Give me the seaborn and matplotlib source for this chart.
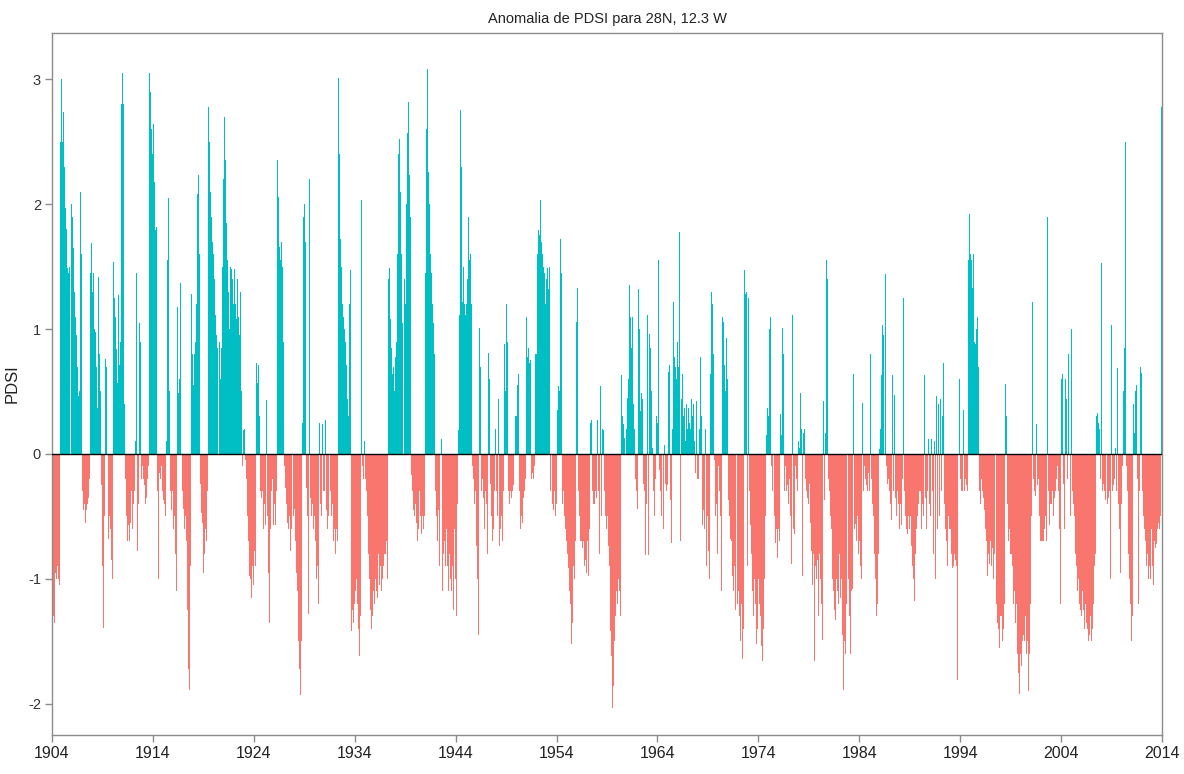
import numpy as np
import pandas as pd
import matplotlib
matplotlib.use("Agg")
import matplotlib.pyplot as plt
import seaborn as sns

title = "Anomalia de PDSI para 28N, 12.3 W"
ylabel = "PDSI"
start_year = 1904
xticks = list(range(1904, 2015, 10))
yticks = [-2, -1, 0, 1, 2, 3]
pos_color = "#00BFC4"
neg_color = "#F8766D"

# monthly PDSI values (Jan..Dec), one row per year
pdsi_1904_1913 = [
    [-1.2, -1.3, -1.35, -1.1, -0.95, -1.0, -0.9, -1.0, -1.05, -0.6, 2.5, 3.0],
    [2.5, 2.74, 2.3, 2.03, 1.97, 1.8, 1.49, 1.45, 1.5, 2.33, 2.15, 2.0],
    [1.9, 1.65, 1.3, 1.1, 1.0, 0.95, 0.7, 0.46, 0.5, 2.1, 2.25, 1.6],
    [-0.3, -0.45, -0.4, -0.55, -0.62, -0.45, -0.4, -0.35, -0.2, 1.45, 1.69, 1.75],
    [1.3, 1.45, 1.0, 0.98, 0.7, 0.5, 0.37, 1.42, 0.8, 0.5, -0.25, -0.6],
    [-0.9, -1.39, -0.5, 0.76, 0.7, -0.2, -0.4, -0.68, -0.5, -0.6, -0.85, -1.0],
    [-0.3, 1.54, 1.25, 1.1, 0.84, 0.57, 0.8, 1.27, 0.71, 0.9, 2.8, 3.05],
    [3.05, 2.8, 0.4, -0.2, -0.5, -0.7, -0.57, -0.4, -0.7, -0.55, -0.3, -0.6],
    [-0.4, -0.5, -0.3, 0.1, 1.45, -0.78, -0.4, -0.3, 1.05, 0.9, -0.2, -0.1],
    [-0.2, -0.3, -0.25, -0.4, -0.35, -0.2, -0.1, 3.05, 3.0, 2.9, 2.6, 2.4],
]
pdsi_1914_1923 = [
    [2.64, 2.18, 2.0, 1.79, 1.82, -0.3, -1.0, -0.15, 1.3, -0.2, -0.1, -0.3],
    [-0.37, -0.4, -0.5, -0.3, 0.1, 1.55, 2.05, 0.5, -0.3, -0.5, -0.45, -0.3],
    [-0.6, -0.5, -0.8, -0.7, -1.1, 1.18, 0.49, 0.6, 1.37, 0.5, -0.1, -0.3],
    [-0.44, -0.6, -0.5, -0.7, -1.0, -1.25, -1.72, -1.89, -0.9, 1.28, 0.6, 0.8],
    [0.55, 0.8, 0.9, 1.2, 1.55, 2.08, 2.23, 1.6, -0.24, -0.47, -0.55, -0.7],
    [-0.95, -0.8, -0.6, -0.7, -0.3, 0.8, 2.78, 2.5, 2.1, 1.9, 1.7, 1.55],
    [1.6, 1.4, 1.11, 0.95, 0.85, 0.68, 0.47, 0.9, 0.6, 0.85, 1.5, 2.2],
    [2.2, 2.7, 2.35, 1.85, 1.55, 1.3, 1.45, 1.0, 1.5, 1.48, 1.4, 1.2],
    [1.5, 1.48, 1.2, 1.08, 1.4, 1.1, 0.95, 0.6, 1.3, 0.5, -0.1, 0.19],
    [0.2, -0.1, -0.05, -0.2, -0.5, -0.7, -0.98, -1.2, -1.0, -1.15, -0.9, -1.05],
]
pdsi_1924_1933 = [
    [-0.78, -1.25, -0.9, 0.73, 0.57, 0.71, 0.3, -0.3, -0.4, -0.35, -0.3, -0.6],
    [-0.4, -0.57, -0.5, 0.43, -0.5, -0.95, -1.35, -0.6, 0.64, -0.3, -0.2, -0.57],
    [-0.4, -0.57, -0.3, 1.52, 2.35, 2.06, 1.66, 1.55, 1.7, 1.39, 1.5, 0.9],
    [-0.1, -0.27, -0.4, -0.3, -0.55, -0.6, -0.5, -0.78, -0.6, 0.52, -0.3, -0.5],
    [-0.44, -0.7, -0.95, -1.1, -1.3, -1.5, -1.72, -1.93, -1.5, 0.25, 2.3, 1.9],
    [2.0, 1.7, -0.27, -0.5, -0.8, -1.28, 2.2, -0.35, -0.5, -0.4, -0.6, -0.8],
    [-0.5, -0.7, -1.0, -0.9, -1.2, -1.65, 0.25, -0.4, -0.5, 0.24, -0.3, -0.6],
    [-0.3, 0.27, -0.45, -0.6, -0.5, 0.95, 0.44, -0.3, -0.5, -0.4, -0.7, -0.6],
    [-0.5, -0.8, -0.6, -0.7, 3.01, 2.4, 1.79, 1.72, 1.5, 1.2, 1.1, 1.0],
    [1.06, 0.9, 0.71, 0.44, 0.3, 1.2, 1.47, -1.08, -1.42, -1.25, -1.35, -1.2],
]
pdsi_1934_1943 = [
    [-1.1, -1.35, -1.0, -1.2, -1.4, -1.62, -1.3, 1.0, 2.03, -0.1, -0.2, 0.1],
    [-0.2, 0.1, -0.3, -0.5, -0.8, -1.0, -1.25, -1.4, -1.72, -1.3, -1.1, -1.2],
    [-1.0, -1.1, -0.9, -1.15, -0.8, -1.05, -0.9, -1.1, -0.75, -1.0, -0.9, -0.8],
    [-0.8, -0.7, -1.0, -0.9, 1.4, 1.49, 1.08, 0.85, 0.64, 0.44, 0.7, 0.5],
    [0.78, 0.9, 1.6, 1.96, 2.4, 2.52, 2.1, 1.6, 1.05, 1.2, 0.9, 1.4],
    [1.2, 2.0, 2.57, 2.82, 2.64, 2.23, 1.9, -0.17, -0.3, -0.45, -0.64, -0.5],
    [-0.4, -0.55, -0.7, -0.6, 0.44, -0.3, -0.5, -0.64, -0.5, -0.6, -0.5, -0.3],
    [1.45, 2.6, 3.08, 2.26, 2.0, 1.79, 1.6, 1.45, 1.2, 1.05, 0.8, -0.2],
    [-0.3, -0.5, -0.7, -0.45, -0.9, -1.0, -0.6, 0.12, -1.1, -0.8, -0.7, -0.9],
    [2.32, -0.6, -0.9, -1.1, -0.8, -1.0, -1.2, -1.1, -0.9, -1.25, -0.6, -1.0],
]
pdsi_1944_1953 = [
    [1.18, -1.3, -0.4, 0.19, 1.11, 2.75, 2.3, 1.67, 1.22, 1.5, 1.2, 1.11],
    [1.2, 1.0, 1.4, 1.9, 1.55, 1.6, 1.2, 0.9, -0.1, -0.2, -0.4, -0.3],
    [-0.74, -0.5, -1.0, -1.45, 1.01, 0.7, -0.3, -0.2, -0.5, -0.35, -0.6, -0.3],
    [-0.4, -0.8, -1.25, 0.81, 0.6, -0.24, -0.5, -0.7, -0.4, -0.6, -0.3, 0.2],
    [-0.3, -0.5, 0.44, -0.4, -0.74, -0.6, -0.5, -0.7, -0.3, 0.2, 0.88, 0.5],
    [1.2, 0.9, -0.3, -0.44, -0.4, -0.3, -0.35, -0.3, -0.25, -0.4, -0.35, 0.3],
    [0.3, 0.55, 0.64, -0.3, -0.4, -0.6, -0.5, -0.55, -0.35, -0.3, -0.4, -0.2],
    [1.1, 0.78, 0.85, 0.73, 0.7, 0.75, -0.2, -0.15, -0.2, -0.1, 0.8, 1.0],
    [0.8, 1.6, 1.79, 1.75, 2.03, 1.8, 1.7, 1.6, 1.5, 1.45, 1.2, 1.0],
    [1.4, 1.49, 1.32, 1.5, -0.3, -0.37, -0.5, -0.4, -0.45, -0.3, -0.5, -0.4],
]
pdsi_1954_1963 = [
    [-0.74, 0.35, 0.54, 0.5, 1.72, 1.45, -0.2, -0.4, -0.3, -0.5, -0.6, -0.7],
    [-0.57, -0.8, -0.91, -1.1, -1.2, -1.52, -1.35, -1.2, -0.9, -1.0, -0.7, 1.06],
    [1.33, 0.7, -0.3, -0.5, -0.7, -0.7, -0.75, -0.8, -0.7, -0.9, -0.85, -0.95],
    [-0.7, -0.8, -0.98, -0.6, 0.25, 0.27, -0.3, -0.4, -0.6, -0.4, -0.3, -0.35],
    [0.27, -0.3, 0.4, -0.8, 0.54, -0.5, 0.2, 0.19, -0.2, -0.3, -0.5, -0.6],
    [-0.5, -0.74, -0.9, -1.08, -1.42, -1.62, -2.03, -1.86, -1.5, -1.25, -1.3, -1.1],
    [-1.2, -1.0, -1.1, -1.38, -1.3, 0.63, 0.3, 0.24, 0.13, 0.1, -0.1, 0.2],
    [0.45, 0.6, 1.35, 1.1, 0.8, 0.85, 1.1, 0.4, 0.2, -0.2, -0.4, -0.3],
    [-0.44, 1.32, 1.0, 0.34, -0.44, 0.49, 0.44, -0.24, -0.3, -0.81, -0.4, 1.08],
    [1.11, -0.81, 0.96, 0.85, 0.5, 0.2, 0.05, -0.3, -0.5, -0.2, 0.3, -0.1],
]
pdsi_1964_1973 = [
    [0.25, 1.55, -0.13, -0.3, -0.5, -0.84, -0.96, -0.6, 0.07, -0.24, -0.3, -0.25],
    [-0.3, 0.66, 0.71, -0.37, -0.71, 0.2, 1.35, 1.22, 0.78, 0.7, 0.6, 0.9],
    [0.64, 0.7, 1.78, -0.7, 0.44, 0.64, 0.3, 0.2, 0.37, 0.1, 0.4, 0.2],
    [0.37, 0.15, 0.25, 0.2, 0.44, 0.3, 0.4, 0.4, 0.1, -0.15, 0.42, -0.2],
    [-0.2, -0.35, 0.2, 0.78, 0.3, -0.57, -0.45, -0.6, -0.8, 0.2, -0.9, -0.5],
    [-0.78, -1.0, 0.91, 0.64, 1.3, 1.2, 0.8, -0.05, -0.2, -0.5, -0.4, -0.8],
    [-0.1, -0.3, -0.5, -0.64, -1.1, 1.1, 1.06, 0.71, 0.5, 0.3, 0.93, 0.6],
    [-0.37, -0.5, -0.68, -0.78, -0.7, -0.98, -1.1, -0.9, -1.25, -1.3, -1.0, -1.2],
    [-1.1, -1.3, -1.5, -1.2, -1.4, -1.64, -1.4, 1.47, 1.28, 1.3, -0.4, -0.9],
    [1.25, -0.3, -0.57, -0.8, -1.0, -1.1, -1.3, -1.0, -1.2, -1.52, -1.4, -1.2],
]
pdsi_1974_1983 = [
    [-1.0, -1.2, -1.3, -1.54, -1.66, -1.6, -1.4, -1.0, -0.5, 0.15, 0.37, 0.2],
    [0.3, 1.0, 1.1, -0.1, -0.3, -0.57, 0.3, -0.5, -0.71, -0.6, -0.83, -0.6],
    [-0.83, -0.7, 0.32, 0.15, 1.01, 0.8, -0.2, -0.3, -0.1, -0.3, -0.25, -0.4],
    [-0.34, -0.2, -0.5, -0.88, 1.11, -0.6, -0.64, -0.4, -0.1, -0.2, -0.3, 0.1],
    [0.05, 0.15, 0.49, 0.2, -0.98, 0.17, 0.2, 0.49, -0.2, -0.3, -0.35, -0.4],
    [-0.24, -0.4, -0.55, -0.78, -1.05, -0.8, -1.66, -0.9, -0.8, -1.0, -0.85, -1.3],
    [-0.8, -1.0, -0.9, -1.2, -1.49, 0.42, -0.37, 0.17, 1.05, 1.55, 1.4, -0.2],
    [-0.3, -0.5, -0.6, -0.8, -1.0, -1.1, -1.25, -1.33, -1.0, -1.27, -1.1, -1.2],
    [-0.8, -1.15, -1.0, -1.3, -1.45, -1.89, -1.5, -1.6, -1.2, -1.35, -1.1, -1.0],
    [-1.3, -1.6, -1.1, -1.08, -0.9, 0.64, -0.6, -0.56, -0.7, -0.5, -0.65, -0.8],
]
pdsi_1984_1993 = [
    [-0.7, -0.9, -1.0, 0.41, -0.6, -0.3, -0.1, -0.2, -0.25, -0.3, -0.15, -0.3],
    [-0.3, 0.8, -0.2, -0.4, -0.5, -0.6, -0.8, -1.0, -1.3, -1.2, -0.8, -0.4],
    [0.04, 0.2, 0.63, 1.03, 0.95, 1.42, 1.56, 1.44, -0.1, -0.24, -0.2, -0.3],
    [-0.24, -0.4, -0.53, 0.63, -0.3, 0.47, -0.24, -0.35, -0.5, -0.3, -0.4, -0.6],
    [-0.3, -0.4, -0.57, -0.2, 1.25, -0.3, -0.5, -0.44, -0.6, -0.64, -0.5, -0.6],
    [-0.5, -0.7, -0.74, -0.9, -1.0, -1.18, -0.8, 1.03, -0.6, -0.5, -0.4, -0.3],
    [-0.3, -0.5, -0.6, -0.4, -0.5, 0.63, -0.35, -0.6, -0.5, -0.3, 0.12, -0.4],
    [-0.5, 0.12, -0.6, -0.3, -0.8, 0.1, -1.0, 0.46, -1.42, -0.6, 0.4, -0.5],
    [0.44, -0.3, 0.3, -0.5, 0.73, -0.4, -0.6, -0.7, -0.9, -0.8, -0.5, -0.6],
    [-0.6, -0.8, -0.91, -0.7, -0.9, -0.8, -0.85, -0.9, -1.81, -0.4, -0.3, 0.6],
]
pdsi_1994_2003 = [
    [-0.2, -0.3, -0.3, 0.35, -0.37, -0.3, -0.2, -0.25, -0.3, 1.55, 1.45, 1.92],
    [1.6, 1.55, 1.33, 1.6, 1.11, 0.9, 0.88, 1.0, 1.1, 0.7, -0.3, -0.1],
    [-0.4, -0.2, -0.3, -0.35, -0.45, -0.55, -0.6, -0.7, -0.98, -0.8, -0.88, -0.75],
    [-0.7, -0.9, -0.75, -1.0, -0.8, -1.1, -0.95, -1.2, -1.35, -1.4, -1.55, -1.3],
    [-1.45, -1.3, -1.5, -1.4, -1.2, 0.56, 0.91, 0.3, -0.4, -0.7, -0.6, -0.8],
    [-0.64, -0.8, -0.9, -1.2, -1.1, -1.35, -1.2, -1.4, -1.6, -1.75, -1.92, -1.6],
    [-1.7, -1.96, -1.5, -1.45, -1.5, -1.3, -1.6, -1.45, -1.5, -1.9, -1.6, -1.2],
    [-0.5, 1.7, 1.22, -0.2, -0.3, -0.34, 0.24, -0.25, -0.3, -0.2, -0.5, -0.7],
    [-0.7, -0.7, -0.65, -0.7, -0.6, -0.5, -0.7, 1.9, 2.43, -0.3, -0.57, -0.4],
    [-0.4, -0.3, -0.5, -0.4, -0.35, -0.3, -0.2, -0.1, -0.3, -0.45, -0.6, -1.2],
]
pdsi_2004_2013 = [
    [0.6, 0.64, -0.24, -0.5, -0.6, 0.6, 0.44, -0.2, 0.8, 1.0, -0.3, -0.5],
    [1.0, -0.3, -0.4, -0.5, -0.6, -0.8, -0.9, -1.1, -1.0, -1.2, -1.3, -1.25],
    [-1.3, -1.1, -1.25, -1.4, -1.3, -1.2, -1.35, -1.4, -1.5, -1.45, -1.3, -1.6],
    [-1.5, -1.4, -1.2, -0.9, -0.8, -0.6, 0.3, 0.33, 0.25, 0.2, -0.2, -0.3],
    [1.53, -0.3, -0.24, -0.3, -0.37, -0.3, -0.3, -0.4, -0.35, -0.3, -1.0, 1.03],
    [-0.2, -0.3, -0.25, -0.2, 0.05, -0.3, 0.06, 0.69, -0.4, -0.6, -0.95, -0.4],
    [-0.3, -0.1, 0.5, 0.85, 2.5, -0.1, -0.3, -0.6, -0.8, -1.0, -1.2, -1.5],
    [-1.3, -1.74, 0.4, 0.17, 0.5, 0.55, -0.2, -0.5, -1.2, -0.3, 0.7, 0.65],
    [-0.3, -0.4, -0.5, -0.6, -0.7, -0.9, -0.8, -1.0, -0.75, -0.9, -1.0, -0.6],
    [-0.9, -1.05, -0.8, -0.7, -0.75, -0.72, -0.6, -0.55, -0.7, -0.6, -0.5, 2.78],
]

blocks = [pdsi_1904_1913, pdsi_1914_1923, pdsi_1924_1933, pdsi_1934_1943,
          pdsi_1944_1953, pdsi_1954_1963, pdsi_1964_1973, pdsi_1974_1983,
          pdsi_1984_1993, pdsi_1994_2003, pdsi_2004_2013]
rows = [row for block in blocks for row in block]
for i, r in enumerate(rows):
    assert len(r) == 12, (start_year + i, len(r))
values = np.array([v for r in rows for v in r], dtype=float)
t = start_year + (np.arange(len(values)) + 0.5) / 12.0
df = pd.DataFrame({"t": t, "pdsi": values,
                   "sign": np.where(values >= 0, "pos", "neg")})

sns.set_theme(style="white")
plt.rcParams["font.family"] = ["Liberation Sans", "DejaVu Sans"]
plt.rcParams["axes.unicode_minus"] = False

fig = plt.figure(figsize=(11.84, 7.74), dpi=100)
ax = fig.add_axes([52 / 1184, 1 - 735 / 774, 1110 / 1184, 702 / 774])

sns.barplot(data=df, x="t", y="pdsi", hue="sign",
            palette={"pos": pos_color, "neg": neg_color},
            native_scale=True, dodge=False, width=1.0, linewidth=0,
            errorbar=None, legend=False, ax=ax, saturation=1)

ax.axhline(0, color="black", lw=1.0, zorder=5)
ax.set_xlim(1904, 2014)
ax.set_ylim(-2.25, 3.37)
ax.set_xticks(xticks)
ax.set_xticklabels([str(x) for x in xticks], fontsize=11.5, color="#222222")
ax.set_yticks(yticks)
ax.set_yticklabels([str(y) for y in yticks], fontsize=10.5, color="#333333")
ax.set_xlabel("")
ax.set_ylabel(ylabel, fontsize=12, color="#222222", labelpad=6)
ax.set_title(title, fontsize=10.5, color="#222222", pad=7)
for s in ax.spines.values():
    s.set_visible(True)
    s.set_color("#8c8c8c")
    s.set_linewidth(1.0)
ax.tick_params(axis="both", which="major", direction="out", length=5, width=1,
               color="#8c8c8c", pad=3, bottom=True, left=True)
ax.grid(False)

fig.savefig("out.png", dpi=100, facecolor="white")
